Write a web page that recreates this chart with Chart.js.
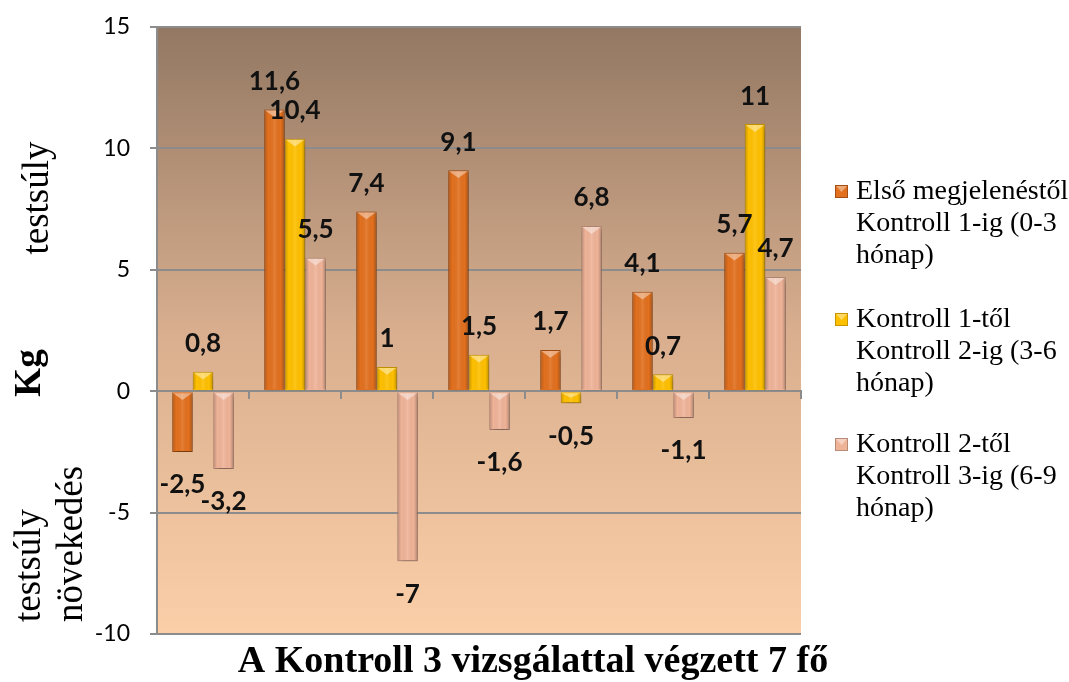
<!DOCTYPE html>
<html>
<head>
<meta charset="utf-8">
<script src="https://cdn.jsdelivr.net/npm/chart.js@4.4.1/dist/chart.umd.min.js"></script>
<style>
  html, body { margin: 0; padding: 0; background: #fff; }
  #wrap { width: 1069px; height: 682px; }
</style>
</head>
<body>
<div id="wrap"><canvas id="chart" width="1069" height="682"></canvas></div>
<script>
// ── Data ─────────────────────────────────────────────────────────────────────
const categories = ['1', '2', '3', '4', '5', '6', '7'];
const seriesNames = [
    ['Első megjelenéstől', 'Kontroll 1-ig (0-3', 'hónap)'],
    ['Kontroll 1-től', 'Kontroll 2-ig (3-6', 'hónap)'],
    ['Kontroll 2-től', 'Kontroll 3-ig (6-9', 'hónap)'],
];
const firstPeriod  = [-2.5, 11.6, 7.4, 9.1, 1.7, 4.1, 5.7];
const secondPeriod = [0.8, 10.4, 1, 1.5, -0.5, 0.7, 11];
const thirdPeriod  = [-3.2, 5.5, -7, -1.6, 6.8, -1.1, 4.7];
const yTicks = [-10, -5, 0, 5, 10, 15];

const xTitle = 'A Kontroll 3 vizsgálattal végzett 7 fő';
const yTitleTop = 'testsúly';
const yTitleMain = 'Kg';
const yTitleBottom = ['testsúly', 'növekedés'];

// ── Styling ──────────────────────────────────────────────────────────────────
const fills   = ['#E2701E', '#FFC000', '#EFB398'];
const borders = ['#A24E14', '#C79500', '#B88A78'];
const SERIF = "'Liberation Serif', 'Times New Roman', serif";
const SANS  = "Lato, 'Open Sans', sans-serif";
const GRID  = '#8C8C8C';

const fmt = v => String(v).replace('.', ',');

// ── Plugins ──────────────────────────────────────────────────────────────────
const plotBg = {
    id: 'plotBg',
    beforeDraw(chart) {
        const { ctx, chartArea: a } = chart;
        const g = ctx.createLinearGradient(0, a.top, 0, a.bottom);
        g.addColorStop(0, '#937863');
        g.addColorStop(0.5, '#D8AE8E');
        g.addColorStop(1, '#FBCFA8');
        ctx.save();
        ctx.fillStyle = g;
        ctx.fillRect(a.left, a.top, a.right - a.left, a.bottom - a.top);
        ctx.restore();
    }
};

const barLook = {
    id: 'barLook',
    beforeDatasetsDraw(chart) {
        const ctx = chart.ctx;
        ctx.save();
        ctx.shadowColor = 'rgba(0,0,0,0.35)';
        ctx.shadowBlur = 6;
        ctx.shadowOffsetX = 2;
        ctx.shadowOffsetY = 3;
    },
    afterDatasetsDraw(chart) {
        const ctx = chart.ctx;
        ctx.restore();
        ctx.save();
        chart.data.datasets.forEach((ds, di) => {
            chart.getDatasetMeta(di).data.forEach((el, i) => {
                const l = el.x - el.width / 2, r = el.x + el.width / 2;
                const t = Math.min(el.y, el.base), b = Math.max(el.y, el.base);
                // side shading
                const g = ctx.createLinearGradient(l, 0, r, 0);
                g.addColorStop(0, 'rgba(0,0,0,0.22)');
                g.addColorStop(0.2, 'rgba(0,0,0,0)');
                g.addColorStop(0.5, 'rgba(255,255,255,0.10)');
                g.addColorStop(0.8, 'rgba(0,0,0,0)');
                g.addColorStop(1, 'rgba(0,0,0,0.25)');
                ctx.fillStyle = g;
                ctx.fillRect(l + 1, t + 1, r - l - 2, b - t - 2);
                // bevel cap on top
                const cap = Math.min((r - l) * 0.38, (b - t) / 2);
                ctx.beginPath();
                ctx.moveTo(l + 1, t + 1);
                ctx.lineTo(r - 1, t + 1);
                ctx.lineTo(el.x, t + cap);
                ctx.closePath();
                ctx.fillStyle = 'rgba(255,255,255,0.42)';
                ctx.fill();

                // value label
                const v = ds.data[i];
                ctx.fillStyle = '#111';
                ctx.font = 'bold 26px ' + SANS;
                ctx.textAlign = 'center';
                ctx.textBaseline = 'middle';
                ctx.fillText(fmt(v), el.x, v >= 0 ? el.y - 28 : el.y + 33);
            });
        });
        ctx.restore();
    }
};

const sideTexts = {
    id: 'sideTexts',
    afterDraw(chart) {
        const ctx = chart.ctx;
        ctx.save();
        ctx.fillStyle = '#000';
        ctx.textBaseline = 'middle';

        // rotated y titles
        const rot = (text, x, y, font, align) => {
            ctx.save();
            ctx.translate(x, y);
            ctx.rotate(-Math.PI / 2);
            ctx.font = font;
            ctx.textAlign = align;
            ctx.fillText(text, 0, 0);
            ctx.restore();
        };
        rot(yTitleTop, 38, 198, '37px ' + SERIF, 'center');
        rot(yTitleMain, 30, 373, 'bold 37px ' + SERIF, 'center');
        rot(yTitleBottom[0], 30, 622, '37px ' + SERIF, 'left');
        rot(yTitleBottom[1], 72, 622, '37px ' + SERIF, 'left');

        // x title, centred on the whole picture
        ctx.font = 'bold 38px ' + SERIF;
        ctx.textAlign = 'center';
        ctx.fillText(xTitle, 533, 662);

        // legend
        const starts = [192, 320, 445];
        ctx.font = '28px ' + SERIF;
        ctx.textAlign = 'left';
        seriesNames.forEach((lines, si) => {
            const y0 = starts[si];
            ctx.fillStyle = fills[si];
            ctx.fillRect(835, y0 - 7, 13, 13);
            ctx.strokeStyle = borders[si];
            ctx.lineWidth = 1;
            ctx.strokeRect(835.5, y0 - 6.5, 12, 12);
            ctx.beginPath();
            ctx.moveTo(836, y0 - 6);
            ctx.lineTo(847, y0 - 6);
            ctx.lineTo(841.5, y0);
            ctx.closePath();
            ctx.fillStyle = 'rgba(255,255,255,0.4)';
            ctx.fill();
            ctx.fillStyle = '#000';
            lines.forEach((ln, k) => ctx.fillText(ln, 856, y0 + k * 32));
        });
        ctx.restore();
    }
};

// ── Chart ────────────────────────────────────────────────────────────────────
const periods = [firstPeriod, secondPeriod, thirdPeriod];
new Chart(document.getElementById('chart').getContext('2d'), {
    type: 'bar',
    data: {
        labels: categories,
        datasets: periods.map((d, i) => ({
            label: seriesNames[i].join(' '),
            data: d,
            backgroundColor: fills[i],
            borderColor: borders[i],
            borderWidth: 1,
            categoryPercentage: 0.67,
            barPercentage: 1,
        }))
    },
    options: {
        responsive: false,
        animation: false,
        devicePixelRatio: 1,
        layout: { padding: { top: 27, right: 268, left: 0, bottom: 48 } },
        plugins: {
            legend: { display: false },
            tooltip: { enabled: false },
        },
        scales: {
            x: {
                position: { y: 0 },
                afterFit: s => { s.height = 0; },
                ticks: { display: false },
                grid: { drawOnChartArea: false, drawTicks: true, tickLength: 7, color: GRID, lineWidth: 2, offset: true },
                border: { color: GRID, width: 2 },
            },
            y: {
                min: -10,
                max: 15,
                afterBuildTicks: s => { s.ticks = yTicks.map(v => ({ value: v })); },
                afterFit: s => { s.width = 157; s.paddingTop = 0; s.paddingBottom = 0; },
                ticks: { padding: 20, color: '#000', font: { family: SANS, size: 23 } },
                grid: { color: GRID, lineWidth: 2, tickLength: 7 },
                border: { color: GRID, width: 2 },
            }
        }
    },
    plugins: [plotBg, barLook, sideTexts]
});
</script>
</body>
</html>
